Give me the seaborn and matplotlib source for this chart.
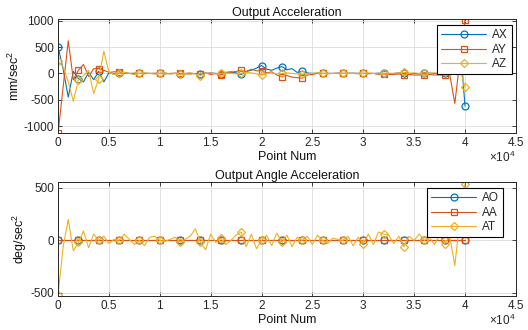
import numpy as np
import pandas as pd
import matplotlib
matplotlib.use("Agg")
import matplotlib.pyplot as plt
import seaborn as sns

# Sample index of each logged point (every 500 points)
point_num = list(range(0, 40001, 500))

# Linear acceleration (mm/sec^2)
ax_vals = [500, 80, -450, 40, -100, -160, 20, -120, 40, -160,
           10, -10, 0, 10, 0, -5, 0, 5, 0, -5,
           0, 5, -5, 0, -10, 0, 5, -5, -20, 0,
           10, 0, -10, 20, 30, 10, -20, 40, 60, 100,
           150, 80, 60, 100, 130, 70, 90, 20, 40, 10,
           0, 5, 0, -5, 0, 5, 0, 0, 5, 0,
           0, -5, 0, 5, 0, -10, 0, 10, 5, 0,
           0, -5, 0, 5, 0, 0, 10, 0, 10, 650,
           -620]
ay_vals = [-1130, -250, 620, -120, 60, 170, -60, 90, 90, 60,
           20, 30, 30, 10, 0, 5, 0, -5, 0, 5,
           0, -10, 0, 5, 0, -10, -10, 0, -5, 10,
           -20, 0, -30, 10, 20, 40, 60, 30, 80, 50,
           50, 10, 30, -30, -60, -40, -70, -80, -90, -30,
           -20, 0, 0, 5, 0, 0, 0, 5, 0, -5,
           0, 0, 0, -20, -10, -20, -20, -10, -30, -20,
           -30, -30, -30, -20, -30, -30, -30, -20, -570, 250,
           1020]
az_vals = [230, 120, -160, -530, -120, -40, 60, -380, -100, 420,
           20, -20, 0, 20, 0, -20, 0, 10, 0, -10,
           0, 10, -10, 0, -20, 0, 10, -10, -40, 0,
           10, -10, 0, 10, 0, -10, 0, 20, 10, -10,
           -30, 0, 10, -10, 0, 10, 0, -10, -20, 0,
           0, 10, 0, -5, 0, 5, 0, 0, 0, 5,
           0, 10, 0, -10, 0, 5, 0, 10, 20, 0,
           10, 0, 10, 0, 10, 5, 20, 10, 30, 100,
           -260]

# Angular acceleration (deg/sec^2)
ao_vals = [0, 0, 0, 0, 0, 0, 0, 0, 0, 0,
           0, 0, 0, 0, 0, 0, 0, 0, 0, 0,
           0, 0, 0, 0, 0, 0, 0, 0, 0, 0,
           0, 0, 0, 0, 0, 0, 0, 0, 0, 0,
           0, 0, 0, 0, 0, 0, 0, 0, 0, 0,
           0, 0, 0, 0, 0, 0, 0, 0, 0, 0,
           0, 0, 0, 0, 0, 0, 0, 0, 0, 0,
           0, 0, 0, 0, 0, 0, 0, 0, 0, 0,
           0]
aa_vals = [0, 0, 0, 0, 0, 0, 0, 0, 0, 0,
           0, 0, 0, 0, 0, 0, 0, 0, 0, 0,
           0, 0, 0, 0, 0, 0, 0, 0, 0, 0,
           0, 0, 0, 0, 0, 0, 0, 0, 0, 0,
           0, 0, 0, 0, 0, 0, 0, 0, 0, 0,
           0, 0, 0, 0, 0, 0, 0, 0, 0, 0,
           0, 0, 0, 0, 0, 0, 0, 0, 0, 0,
           0, 0, 0, 0, 0, 0, 0, 0, 0, 0,
           0]
at_vals = [-520, -60, 200, -100, -20, 90, -70, 60, 0, 40,
           -30, 10, 0, 60, 10, -40, 0, -50, 30, 40,
           0, -10, 10, 30, -20, 10, 40, 110, -20, -90,
           60, -20, 20, -40, 0, 50, 80, -60, 60, -80,
           0, 50, -50, 70, -20, 50, -60, 30, 0, 40,
           -40, 50, 0, -30, 20, 10, 0, 40, -50, 30,
           -30, 60, -40, 80, 60, 50, -30, 40, -60, 40,
           0, 60, 0, 30, -40, 50, -30, 40, -240, 200,
           540]

x_tick_vals = [0, 5000, 10000, 15000, 20000, 25000, 30000, 35000, 40000, 45000]
x_tick_labels = ["0", "0.5", "1", "1.5", "2", "2.5", "3", "3.5", "4", "4.5"]

C_BLUE, C_RED, C_YEL = "#0072BD", "#D95319", "#EDB120"

sns.set_style("ticks")
plt.rcParams["font.family"] = ["Liberation Sans", "DejaVu Sans"]
plt.rcParams["mathtext.fontset"] = "custom"
plt.rcParams["mathtext.rm"] = "Liberation Sans"

fig = plt.figure(figsize=(5.28, 3.30), dpi=100)
ax1 = fig.add_axes([0.110, 0.597, 0.867, 0.345])
ax2 = fig.add_axes([0.110, 0.103, 0.867, 0.345])

df1 = pd.DataFrame({"x": point_num, "AX": ax_vals, "AY": ay_vals, "AZ": az_vals})
df2 = pd.DataFrame({"x": point_num, "AO": ao_vals, "AA": aa_vals, "AT": at_vals})

def draw(ax, df, specs):
    for name, color, marker, msize in specs:
        sns.lineplot(data=df, x="x", y=name, ax=ax, color=color, marker=marker,
                     markevery=4, markerfacecolor="none", markeredgecolor=color,
                     markersize=msize, markeredgewidth=0.9, linewidth=0.8,
                     estimator=None, sort=False, label=name)

draw(ax1, df1, [("AX", C_BLUE, "o", 5), ("AY", C_RED, "s", 4.6), ("AZ", C_YEL, "D", 4.2)])
draw(ax2, df2, [("AO", C_BLUE, "o", 5), ("AA", C_RED, "s", 4.6), ("AT", C_YEL, "D", 4.2)])

def style(ax, title, ylabel, yticks, ylim, leg_anchor):
    ax.set_xlim(0, 45000)
    ax.set_ylim(*ylim)
    ax.set_xticks(x_tick_vals, x_tick_labels)
    ax.set_yticks(yticks, [str(v) for v in yticks])
    ax.grid(True, color="#dcdcdc", linewidth=0.6)
    ax.set_axisbelow(True)
    ax.tick_params(direction="in", top=True, right=True, labelsize=8.5,
                   length=3, width=0.6, colors="#262626", pad=3)
    for s in ax.spines.values():
        s.set_visible(True)
        s.set_linewidth(0.7)
        s.set_color("#262626")
    ax.set_title(title, fontsize=9, pad=2, color="#111111")
    ax.set_xlabel("Point Num", fontsize=9, labelpad=1, color="#111111")
    ax.set_ylabel(ylabel, fontsize=9, labelpad=1, color="#111111")
    ax.text(1.0, -0.215, r"$\times10^{4}$", transform=ax.transAxes,
            ha="right", va="center", fontsize=8.5, color="#262626")
    leg = ax.legend(loc="upper right", fontsize=8.5, frameon=True, fancybox=False,
                    edgecolor="black", framealpha=1, handlelength=3.8,
                    borderpad=0.35, labelspacing=0.2, handletextpad=0.5,
                    borderaxespad=0, bbox_to_anchor=leg_anchor)
    leg.get_frame().set_linewidth(0.8)

style(ax1, "Output Acceleration", "mm/sec$^2$", [-1000, -500, 0, 500, 1000],
      (-1130, 1030), (0.991, 0.947))
style(ax2, "Output Angle Acceleration", "deg/sec$^2$", [-500, 0, 500],
      (-530, 555), (0.972, 0.947))

fig.savefig("out.png", dpi=100)
